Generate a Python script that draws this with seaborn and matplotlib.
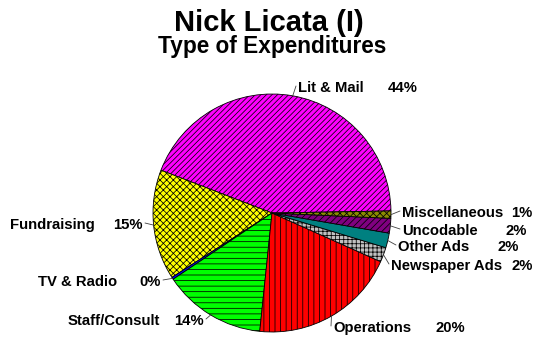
import numpy as np
import matplotlib
matplotlib.use("Agg")
import matplotlib.pyplot as plt
import seaborn as sns

sns.set_theme(style="white")
plt.rcParams['font.family'] = ['Liberation Sans', 'DejaVu Sans']
plt.rcParams['hatch.linewidth'] = 0.55
plt.rcParams['text.color'] = 'black'

# Data (counter-clockwise from 3 o'clock)
categories = ["Lit & Mail", "Fundraising", "TV & Radio", "Staff/Consult", "Operations",
              "Newspaper Ads", "Other Ads", "Uncodable", "Miscellaneous"]
values = [44, 15, 0.3, 14, 20, 2, 2, 2, 1]
pct_labels = ["44%", "15%", "0%", "14%", "20%", "2%", "2%", "2%", "1%"]

colors = ["#FF00FF", "#FFFF00", "#0000FF", "#00FF00", "#FF0000",
          "#C0C0C0", "#008080", "#800080", "#8C8C00"]
hatches = ["//////", "xxxxx", "", "---", "|||", "++++", "", "/////", "xxxxx"]

W, H = 535, 339
fig = plt.figure(figsize=(W / 100, H / 100), dpi=100)

cx, cy, r = 272, 213, 119
ax = fig.add_axes([(cx - r) / W, (H - cy - r) / H, 2 * r / W, 2 * r / H])
wedges, _ = ax.pie(values, colors=colors, startangle=1, counterclock=True,
                   wedgeprops=dict(edgecolor="black", linewidth=0.6))
for w, h in zip(wedges, hatches):
    w.set_hatch(h)
ax.set_xlim(-1, 1)
ax.set_ylim(-1, 1)
ax.set_aspect("auto")
ax.axis("off")

# label layout: (name_x, pct_x, y, side)  in pixels from top-left
layout = {
    "Lit & Mail": (298, 388, 88, "r"),
    "Miscellaneous": (402, 511, 213, "r"),
    "Uncodable": (402, 505, 231, "r"),
    "Other Ads": (398, 497, 247, "r"),
    "Newspaper Ads": (391, 512, 266, "r"),
    "Operations": (333, 435, 328, "r"),
    "Staff/Consult": (68, 204, 321, "l"),
    "TV & Radio": (38, 161, 282, "l"),
    "Fundraising": (10, 143, 225, "l"),
}

fs = 10.7
for w, cat, pct in zip(wedges, categories, pct_labels):
    nx, px, y, side = layout[cat]
    yf = 1 - y / H
    fig.text(nx / W, yf, cat, ha="left", va="center", fontsize=fs, fontweight="bold")
    if side == "r":
        fig.text(px / W, yf, pct, ha="left", va="center", fontsize=fs, fontweight="bold")
        end = (nx - 2, H - y + 2)
    else:
        fig.text(px / W, yf, pct, ha="right", va="center", fontsize=fs, fontweight="bold")
        end = (px + 2, H - y + 2)
    mid = np.deg2rad((w.theta1 + w.theta2) / 2)
    ax.annotate("", xy=(np.cos(mid), np.sin(mid)), xycoords="data",
                xytext=end, textcoords="figure pixels",
                arrowprops=dict(arrowstyle="-", color="#404040", lw=0.6,
                                shrinkA=0, shrinkB=0))

fig.text(269 / W, 1 - 23 / H, "Nick Licata (I)", ha="center", va="center",
         fontsize=21, fontweight="bold")
fig.text(272 / W, 1 - 47 / H, "Type of Expenditures", ha="center", va="center",
         fontsize=16.3, fontweight="bold")

fig.savefig("out.png", dpi=100, facecolor="white")
